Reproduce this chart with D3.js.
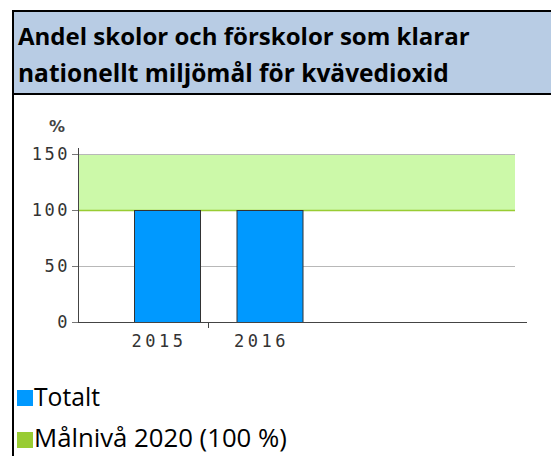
<!DOCTYPE html>
<meta charset="utf-8">
<head>
<style>
  body { margin: 0; background: #fff; }
  svg { display: block; }
  .title { font-family: "Open Sans", "Noto Sans", sans-serif; font-weight: bold; fill: #000; }
  .tick-label { font-family: "DejaVu Sans Mono", monospace; font-size: 17px; fill: #333; letter-spacing: 2.5px; }
  .legend { font-family: "Open Sans", "Noto Sans", sans-serif; fill: #000; }
</style>
</head>
<body>
<svg id="chart"></svg>
<script src="https://d3js.org/d3.v7.min.js"></script>
<script>

// data
var titleLines = ["Andel skolor och förskolor som klarar", "nationellt miljömål för kvävedioxid"];
var years = ["2015", "2016"];
var totalt = [100, 100];
var goalBand = [100, 150];
var yTicks = [0, 50, 100, 150];
var legendLabels = ["Totalt", "Målnivå 2020 (100 %)"];
var legendColors = ["#0099ff", "#99cc33"];

var W = 551, H = 456;

var svg = d3.select("#chart")
    .attr("width", W)
    .attr("height", H);

// frame + title box
svg.append("rect")
    .attr("x", 13).attr("y", 11)
    .attr("width", W).attr("height", 83)
    .attr("fill", "#b8cce4");
svg.append("line").attr("x1", 12).attr("x2", W).attr("y1", 11).attr("y2", 11)
    .attr("stroke", "#000").attr("stroke-width", 2);
svg.append("line").attr("x1", 12).attr("x2", W).attr("y1", 94).attr("y2", 94)
    .attr("stroke", "#000").attr("stroke-width", 2);
svg.append("line").attr("x1", 13).attr("x2", 13).attr("y1", 10).attr("y2", H)
    .attr("stroke", "#000").attr("stroke-width", 2);

// fit a text element to a target width by scaling its font size
function fit(sel, base, target) {
  sel.style("font-size", base + "px");
  var w = sel.node().getComputedTextLength();
  sel.style("font-size", (base * target / w) + "px");
}

var titleWidths = [452, 431];
titleLines.forEach(function(t, i) {
  var tx = svg.append("text").attr("class", "title")
      .attr("x", 18).attr("y", 45 + i * 37)
      .text(t);
  fit(tx, 22, titleWidths[i]);
});

// chart area
var x0 = 78, x1 = 527, gridEnd = 515;

var x = d3.scaleBand()
    .domain(years)
    .range([134, 302.5])
    .paddingInner(0.356)
    .paddingOuter(0);

var y = d3.scaleLinear()
    .domain([0, 150])
    .range([322, 154]);

// goal band
svg.append("rect")
    .attr("x", x0).attr("y", y(goalBand[1]))
    .attr("width", gridEnd - x0)
    .attr("height", y(goalBand[0]) - y(goalBand[1]))
    .attr("fill", "#ccf9a9");

// gridlines
svg.selectAll(".grid")
    .data(yTicks.filter(function(d) { return d > 0; }))
  .enter().append("line")
    .attr("class", "grid")
    .attr("x1", x0).attr("x2", gridEnd)
    .attr("y1", function(d) { return y(d) + 0.5; })
    .attr("y2", function(d) { return y(d) + 0.5; })
    .attr("stroke", function(d) { return d === goalBand[0] ? "#99cc33" : "#b8b8b8"; })
    .attr("stroke-width", function(d) { return d === goalBand[0] ? 1.5 : 1; });

// bars
svg.selectAll(".bar")
    .data(totalt)
  .enter().append("rect")
    .attr("class", "bar")
    .attr("x", function(d, i) { return x(years[i]) + 0.5; })
    .attr("y", function(d) { return y(d) + 0.5; })
    .attr("width", x.bandwidth())
    .attr("height", function(d) { return y(0) - y(d); })
    .attr("fill", "#0099ff")
    .attr("stroke", "#333")
    .attr("stroke-width", 1);

// y axis
svg.append("line")
    .attr("x1", x0 + 0.5).attr("x2", x0 + 0.5)
    .attr("y1", y(150) - 6).attr("y2", y(0))
    .attr("stroke", "#444");
svg.selectAll(".ytick")
    .data(yTicks)
  .enter().append("line")
    .attr("x1", x0 - 6).attr("x2", x0)
    .attr("y1", function(d) { return y(d) + 0.5; })
    .attr("y2", function(d) { return y(d) + 0.5; })
    .attr("stroke", "#777");
svg.selectAll(".ylab")
    .data(yTicks)
  .enter().append("text")
    .attr("class", "tick-label")
    .attr("x", x0 - 8)
    .attr("y", function(d) { return y(d) + 6; })
    .attr("text-anchor", "end")
    .text(function(d) { return d; });

svg.append("text")
    .attr("x", 57).attr("y", 132)
    .attr("text-anchor", "middle")
    .style("font-family", "DejaVu Sans, sans-serif")
    .style("font-size", "16px")
    .style("font-weight", "bold")
    .style("fill", "#444")
    .text("%");

// x axis
svg.append("line")
    .attr("x1", x0).attr("x2", x1)
    .attr("y1", y(0) + 0.5).attr("y2", y(0) + 0.5)
    .attr("stroke", "#444");
svg.append("line")
    .attr("x1", x(years[0]) + x.bandwidth() + 8.5)
    .attr("x2", x(years[0]) + x.bandwidth() + 8.5)
    .attr("y1", y(0)).attr("y2", y(0) + 6)
    .attr("stroke", "#444");
svg.selectAll(".xlab")
    .data(years)
  .enter().append("text")
    .attr("class", "tick-label")
    .attr("x", function(d) { return x(d) + x.bandwidth() / 2 - 8; })
    .attr("y", y(0) + 25)
    .attr("text-anchor", "middle")
    .style("letter-spacing", "3.5px")
    .text(function(d) { return d; });

// legend
legendLabels.forEach(function(l, i) {
  svg.append("rect")
      .attr("x", 17).attr("y", 390 + i * 42)
      .attr("width", 16).attr("height", 16)
      .attr("fill", legendColors[i]);
  var t = svg.append("text").attr("class", "legend")
      .attr("x", 34).attr("y", 406 + i * 41)
      .text(l);
  fit(t, 20, i === 0 ? 66 : 253);
});

</script>
</body>
